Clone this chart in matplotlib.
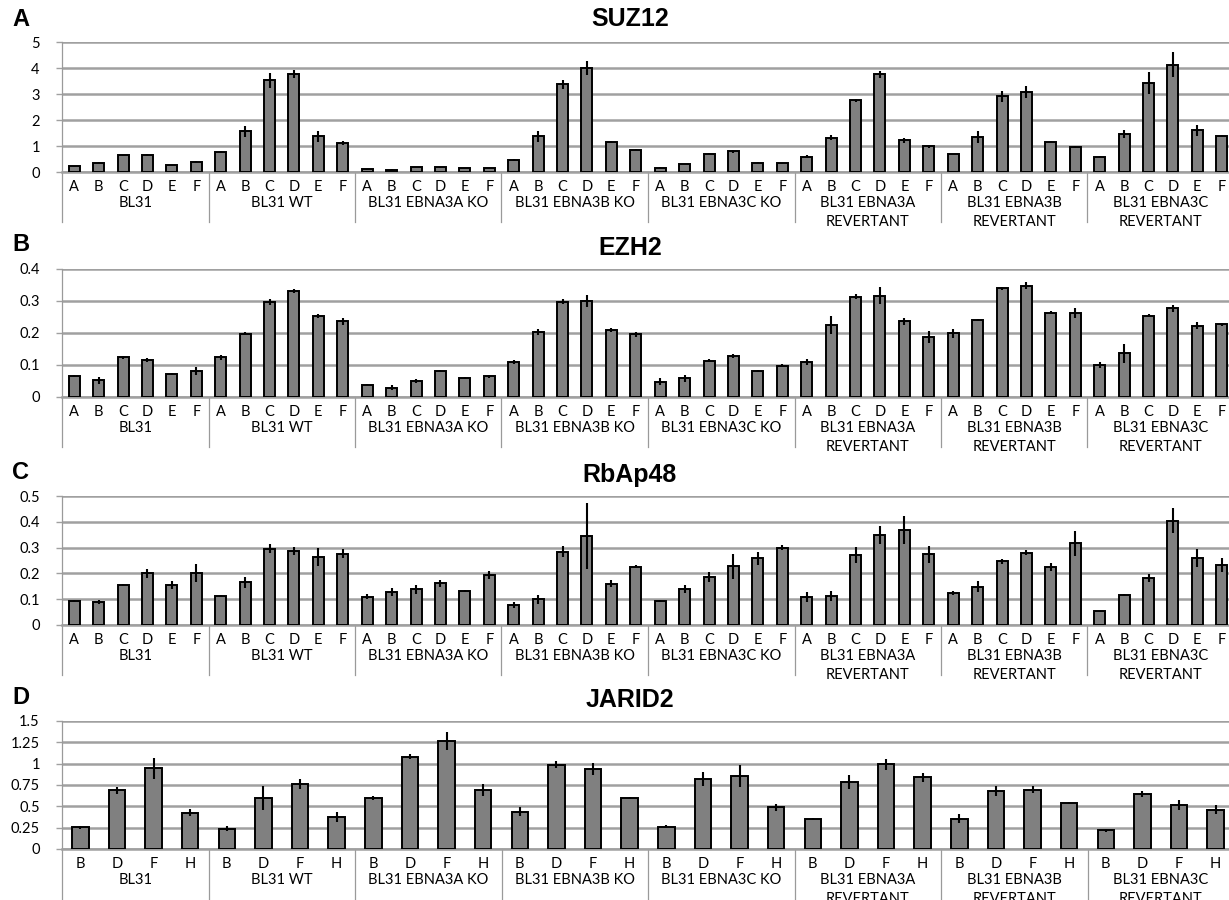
import numpy as np
import matplotlib
matplotlib.use('Agg')
import matplotlib.pyplot as plt
from matplotlib.ticker import FormatStrFormatter

# Group names (two-line ones are the revertants)
groups = ['BL31', 'BL31 WT', 'BL31 EBNA3A KO', 'BL31 EBNA3B KO', 'BL31 EBNA3C KO',
          'BL31 EBNA3A\nREVERTANT', 'BL31 EBNA3B\nREVERTANT', 'BL31 EBNA3C\nREVERTANT']
sites6 = ['A', 'B', 'C', 'D', 'E', 'F']
sites4 = ['B', 'D', 'F', 'H']

# SUZ12
suz12 = [0.23, 0.35, 0.64, 0.64, 0.26, 0.38,
         0.77, 1.56, 3.53, 3.78, 1.37, 1.12,
         0.10, 0.09, 0.19, 0.18, 0.15, 0.15,
         0.45, 1.37, 3.37, 4.00, 1.15, 0.86,
         0.17, 0.30, 0.70, 0.79, 0.35, 0.33,
         0.58, 1.32, 2.76, 3.76, 1.22, 0.99,
         0.70, 1.35, 2.91, 3.08, 1.17, 0.96,
         0.58, 1.47, 3.42, 4.13, 1.60, 1.37]
suz12_err = [0.02, 0.02, 0.02, 0.04, 0.02, 0.05,
             0.03, 0.20, 0.28, 0.16, 0.20, 0.08,
             0.01, 0.01, 0.01, 0.01, 0.01, 0.01,
             0.04, 0.22, 0.16, 0.27, 0.04, 0.02,
             0.01, 0.01, 0.02, 0.05, 0.02, 0.03,
             0.06, 0.10, 0.06, 0.14, 0.10, 0.05,
             0.01, 0.22, 0.21, 0.22, 0.02, 0.05,
             0.02, 0.15, 0.43, 0.49, 0.21, 0.04]

# EZH2
ezh2 = [0.066, 0.052, 0.124, 0.115, 0.073, 0.082,
        0.124, 0.198, 0.296, 0.330, 0.253, 0.236,
        0.039, 0.029, 0.050, 0.082, 0.059, 0.065,
        0.109, 0.203, 0.298, 0.300, 0.209, 0.196,
        0.047, 0.058, 0.114, 0.128, 0.081, 0.098,
        0.110, 0.225, 0.314, 0.317, 0.236, 0.188,
        0.199, 0.240, 0.340, 0.348, 0.264, 0.262,
        0.100, 0.136, 0.254, 0.277, 0.223, 0.227]
ezh2_err = [0.003, 0.010, 0.004, 0.007, 0.003, 0.013,
            0.007, 0.004, 0.010, 0.006, 0.006, 0.012,
            0.003, 0.007, 0.006, 0.002, 0.004, 0.005,
            0.006, 0.010, 0.008, 0.019, 0.006, 0.008,
            0.011, 0.011, 0.006, 0.007, 0.004, 0.005,
            0.010, 0.028, 0.008, 0.026, 0.012, 0.019,
            0.015, 0.003, 0.005, 0.010, 0.004, 0.015,
            0.009, 0.031, 0.005, 0.012, 0.010, 0.004]

# RbAp48
rbap48 = [0.093, 0.090, 0.155, 0.200, 0.155, 0.200,
          0.111, 0.165, 0.296, 0.286, 0.264, 0.277,
          0.110, 0.129, 0.139, 0.161, 0.133, 0.193,
          0.077, 0.099, 0.284, 0.345, 0.160, 0.226,
          0.094, 0.139, 0.186, 0.228, 0.259, 0.300,
          0.108, 0.112, 0.272, 0.349, 0.367, 0.274,
          0.125, 0.149, 0.247, 0.280, 0.224, 0.317,
          0.054, 0.115, 0.183, 0.405, 0.259, 0.232]
rbap48_err = [0.004, 0.007, 0.003, 0.016, 0.016, 0.035,
              0.004, 0.022, 0.017, 0.015, 0.035, 0.016,
              0.011, 0.016, 0.017, 0.015, 0.004, 0.016,
              0.011, 0.016, 0.022, 0.127, 0.013, 0.005,
              0.004, 0.015, 0.020, 0.049, 0.025, 0.009,
              0.019, 0.020, 0.032, 0.035, 0.054, 0.032,
              0.008, 0.020, 0.010, 0.010, 0.015, 0.048,
              0.002, 0.004, 0.015, 0.048, 0.036, 0.028]

# JARID2
jarid2 = [0.254, 0.688, 0.945, 0.426,
          0.238, 0.594, 0.758, 0.379,
          0.600, 1.080, 1.266, 0.695,
          0.437, 0.988, 0.941, 0.600,
          0.262, 0.824, 0.855, 0.488,
          0.352, 0.785, 0.992, 0.840,
          0.355, 0.676, 0.695, 0.539,
          0.219, 0.645, 0.516, 0.461]
jarid2_err = [0.020, 0.040, 0.120, 0.040,
              0.030, 0.140, 0.060, 0.060,
              0.020, 0.030, 0.110, 0.070,
              0.050, 0.040, 0.070, 0.010,
              0.015, 0.080, 0.130, 0.040,
              0.015, 0.080, 0.065, 0.055,
              0.050, 0.060, 0.040, 0.015,
              0.015, 0.040, 0.060, 0.050]

panels = [
    ('A', 'SUZ12', suz12, suz12_err, sites6, 5, 1),
    ('B', 'EZH2', ezh2, ezh2_err, sites6, 0.4, 0.1),
    ('C', 'RbAp48', rbap48, rbap48_err, sites6, 0.5, 0.1),
    ('D', 'JARID2', jarid2, jarid2_err, sites4, 1.5, 0.25),
]

W, H = 1229, 900
fig = plt.figure(figsize=(W / 100, H / 100), dpi=100)

tick_font = 'Lato'
head_font = 'Liberation Sans'
grid_c = '#a0a0a0'
sep_c = '#9a9a9a'

# pixel positions of each panel: plot top, plot bottom, title y, letter y
boxes = [(42, 172, 19, 20), (269, 397, 248, 245), (496, 625, 475, 472), (721, 849, 700, 697)]
left_px, right_px = 62, 1234

for (letter, title, vals, errs, sites, ymax, ystep), (top, bot, ty, ly) in zip(panels, boxes):
    ax = fig.add_axes([left_px / W, 1 - bot / H, (right_px - left_px) / W, (bot - top) / H])
    hpx = bot - top
    n = len(sites)
    x = np.arange(len(vals))
    ax.bar(x, vals, width=0.45, color='#808080', edgecolor='black', linewidth=1.4, zorder=3)
    ax.errorbar(x, vals, yerr=errs, fmt='none', ecolor='black', elinewidth=1.5,
                capsize=0, zorder=4)

    ax.set_xlim(-0.5, len(vals) - 0.5)
    ax.set_ylim(0, ymax)
    ax.set_yticks(np.arange(0, ymax + ystep / 2, ystep))
    ax.yaxis.set_major_formatter(FormatStrFormatter('%g'))
    ax.grid(axis='y', color=grid_c, linewidth=1.8, zorder=0)
    ax.set_axisbelow(True)
    for s in ['top', 'right']:
        ax.spines[s].set_visible(False)
    ax.spines['bottom'].set_color(grid_c)
    ax.spines['bottom'].set_linewidth(1.8)
    ax.spines['left'].set_color(sep_c)
    ax.spines['left'].set_linewidth(0.9)
    ax.tick_params(axis='y', length=4, color=grid_c, width=1, labelsize=10.5, pad=12)
    for t in ax.get_yticklabels():
        t.set_fontfamily(tick_font)

    ax.set_xticks(x)
    ax.set_xticklabels(sites * len(groups), fontfamily=tick_font, fontsize=10.5)
    ax.tick_params(axis='x', length=0, pad=6)

    tr = ax.get_xaxis_transform()
    for g, name in enumerate(groups):
        xc = g * n + (n - 1) / 2
        for k, line in enumerate(name.split('\n')):
            ax.text(xc, -(31 + 19 * k) / hpx, line, transform=tr, ha='center', va='center',
                    fontfamily=tick_font, fontsize=10.5, clip_on=False)
        xb = g * n - 0.5
        ax.plot([xb, xb], [0, -50 / hpx], transform=tr, color=sep_c, linewidth=0.9, clip_on=False)

    fig.text(630 / W, 1 - ty / H, title, ha='center', va='center',
             fontfamily=head_font, fontweight='bold', fontsize=18)
    fig.text(12 / W, 1 - ly / H, letter, ha='left', va='center',
             fontfamily=head_font, fontweight='bold', fontsize=17)

fig.savefig('out.png', dpi=100)
